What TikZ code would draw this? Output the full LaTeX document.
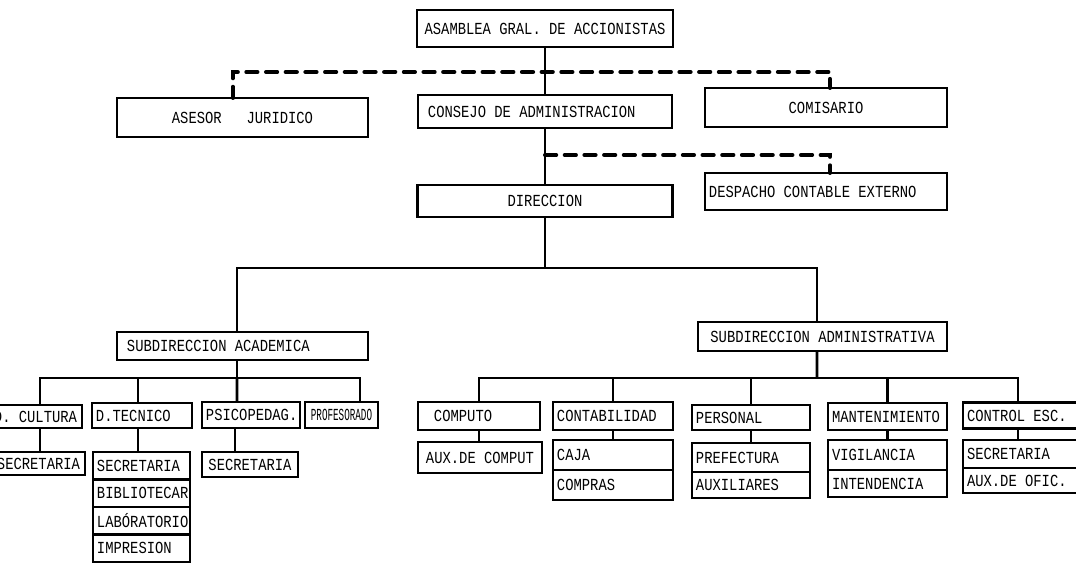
\documentclass[tikz,border=0pt]{standalone}
\usepackage{fontspec}
\usepackage{tikz}
\usetikzlibrary{positioning}
\newfontfamily\orgfamily[FakeStretch=0.82]{Liberation Mono}
\newfontfamily\narrowfamily[FakeStretch=0.55]{Liberation Mono}
\newcommand{\orgfont}{\orgfamily\fontsize{12}{14}\selectfont}
\tikzstyle{orgbox} = [rectangle, draw=black, line width=2pt, inner xsep=0.1cm, inner ysep=0pt, outer sep=0pt, font=\orgfont, text centered]
\tikzset{lbox/.style={orgbox, align=flush left, text width=#1, execute at begin node={\spaceskip=0.492em\relax}}}
\tikzstyle{link} = [line width=2pt]
\tikzstyle{dashlink} = [line width=2.8pt, dash pattern=on 8pt off 6pt, line cap=round]

\begin{document}
\begin{tikzpicture}[x=0.025cm, y=-0.025cm]
\useasboundingbox (0,0) rectangle (1076,564);
% Nodes
\node (asamblea) [orgbox, minimum width=6.4cm, minimum height=0.925cm] at (545,28.5) {ASAMBLEA GRAL. DE ACCIONISTAS};
\node (asesor) [orgbox, minimum width=6.275cm, minimum height=0.975cm] at (242.5,117.5) {ASESOR\hspace{1.476em}JURIDICO};
\node (consejo) [lbox=6.15cm, minimum height=0.825cm] at (545,111.5) {\hspace*{0.15cm}CONSEJO DE ADMINISTRACION};
\node (comisario) [orgbox, minimum width=6.05cm, minimum height=0.975cm] at (826,107.5) {COMISARIO};
\node (direccion) [orgbox, minimum width=6.375cm, minimum height=0.8cm] at (545,201) {DIRECCION};
\node (despacho) [lbox=5.85cm, minimum height=0.925cm] at (826,191.5) {DESPACHO CONTABLE EXTERNO};
\node (subacad) [lbox=6.075cm, minimum height=0.7cm] at (242.5,346) {\hspace*{0.15cm}SUBDIRECCION ACADEMICA};
\node (subadmin) [orgbox, minimum width=6.225cm, minimum height=0.725cm] at (822.5,336.5) {SUBDIRECCION ADMINISTRATIVA};

% Academic branch
\node (cultura) [lbox=2.1cm, minimum height=0.575cm] at (36,416.5) {D. CULTURA};
\node (cultsec) [orgbox, minimum width=2.325cm, minimum height=0.575cm] at (38.5,463.5) {SECRETARIA};
\node (tecnico) [lbox=2.3cm, minimum height=0.625cm] at (142,415.5) {D.TECNICO};
\node (tecsec) [lbox=2.225cm, minimum height=0.6875cm] at (141.5,465.75) {SECRETARIA};
\node (tecbib) [lbox=2.225cm, minimum height=0.6875cm, below=0pt of tecsec] {BIBLIOTECAR};
\node (teclab) [lbox=2.225cm, minimum height=0.6875cm, below=0pt of tecbib] {LABÓRATORIO};
\node (tecimp) [lbox=2.225cm, minimum height=0.6875cm, below=0pt of teclab] {IMPRESION};
\node (psico) [lbox=2.25cm, minimum height=0.65cm] at (251,415) {PSICOPEDAG.};
\node (psicosec) [orgbox, minimum width=2.4cm, minimum height=0.625cm] at (250,464.5) {SECRETARIA};
\node (profe) [orgbox, minimum width=1.825cm, minimum height=0.65cm, font=\narrowfamily\fontsize{12}{14}\selectfont] at (341.5,415) {PROFESORADO};

% Administrative branch
\node (computo) [lbox=2.85cm, minimum height=0.7cm] at (479,416) {\hspace*{0.3cm}COMPUTO};
\node (auxcomp) [lbox=2.9cm, minimum height=0.775cm] at (480,457.5) {\hspace*{0.1cm}AUX.DE COMPUT};
\node (contab) [lbox=2.8cm, minimum height=0.7cm] at (613,416) {CONTABILIDAD};
\node (caja) [lbox=2.8cm, minimum height=0.75cm] at (613,455) {CAJA};
\node (compras) [lbox=2.8cm, minimum height=0.75cm, below=0pt of caja] {COMPRAS};
\node (personal) [lbox=2.75cm, minimum height=0.625cm] at (751,417.5) {PERSONAL};
\node (prefectura) [lbox=2.75cm, minimum height=0.725cm] at (751,457.5) {PREFECTURA};
\node (auxiliares) [lbox=2.75cm, minimum height=0.65cm, below=0pt of prefectura] {AUXILIARES};
\node (manten) [lbox=2.775cm, minimum height=0.675cm] at (887.5,416.5) {MANTENIMIENTO};
\node (vigilancia) [lbox=2.775cm, minimum height=0.75cm] at (887.5,455) {VIGILANCIA};
\node (intendencia) [lbox=2.775cm, minimum height=0.675cm, below=0pt of vigilancia] {INTENDENCIA};
\node (control) [lbox=2.85cm, minimum height=0.65cm] at (1024,415.5) {CONTROL ESC.};
\node (ctrlsec) [lbox=2.85cm, minimum height=0.7cm] at (1024,454) {SECRETARIA};
\node (auxofic) [lbox=2.85cm, minimum height=0.625cm, below=0pt of ctrlsec] {AUX.DE OFIC.};

% Junctions
\coordinate (dashA) at (545,72);
\coordinate (dashB) at (545,155);
\coordinate (topbus) at (545,268);
\coordinate (acadbus) at (237,378);
\coordinate (admbus) at (817,378);

% Lines
\draw [link] (asamblea.south) -- (asamblea.south |- consejo.north);
\draw [link] (consejo.south) -- (consejo.south |- direccion.north);
\draw [link] (direccion.south) -- (topbus);
\draw [dashlink] ([xshift=-0.24cm]asesor.north) |- (dashA) -| ([xshift=0.1cm]comisario.north);
\draw [dashlink] (dashB) -| ([xshift=0.1cm]despacho.north);
\draw [link] (acadbus |- subacad.north) |- (topbus) -| ([xshift=-0.14cm]subadmin.north);

\draw [link] (acadbus |- subacad.south) -- (acadbus);
\draw [link] ([xshift=0.1cm]cultura.north) |- (acadbus) -| ([xshift=0.46cm]profe.north);
\draw [link] ([xshift=-0.1cm]tecnico.north) -- ([xshift=-0.1cm]tecnico.north |- acadbus);
\draw [link] (acadbus) -- ([xshift=-0.35cm]psico.north);
\draw [link] ([xshift=0.1cm]cultura.south) -- ([xshift=0.1cm]cultura.south |- cultsec.north);
\draw [link] ([xshift=-0.1cm]tecnico.south) -- ([xshift=-0.1cm]tecnico.south |- tecsec.north);
\draw [link] ([xshift=-0.4cm]psico.south) -- ([xshift=-0.4cm]psico.south |- psicosec.north);

\draw [link] ([xshift=-0.14cm]subadmin.south) -- (admbus);
\draw [link] (computo.north) |- (admbus) -| ([xshift=-0.15cm]control.north);
\draw [link] (contab.north) -- (contab.north |- admbus);
\draw [link] (personal.north) -- (personal.north |- admbus);
\draw [link] (manten.north) -- (manten.north |- admbus);
\draw [link] (computo.south) -- (computo.south |- auxcomp.north);
\draw [link] (contab.south) -- (contab.south |- caja.north);
\draw [link] (personal.south) -- (personal.south |- prefectura.north);
\draw [link] (manten.south) -- (manten.south |- vigilancia.north);
\draw [link] ([xshift=-0.15cm]control.south) -- ([xshift=-0.15cm]control.south |- ctrlsec.north);

\end{tikzpicture}
\end{document}
